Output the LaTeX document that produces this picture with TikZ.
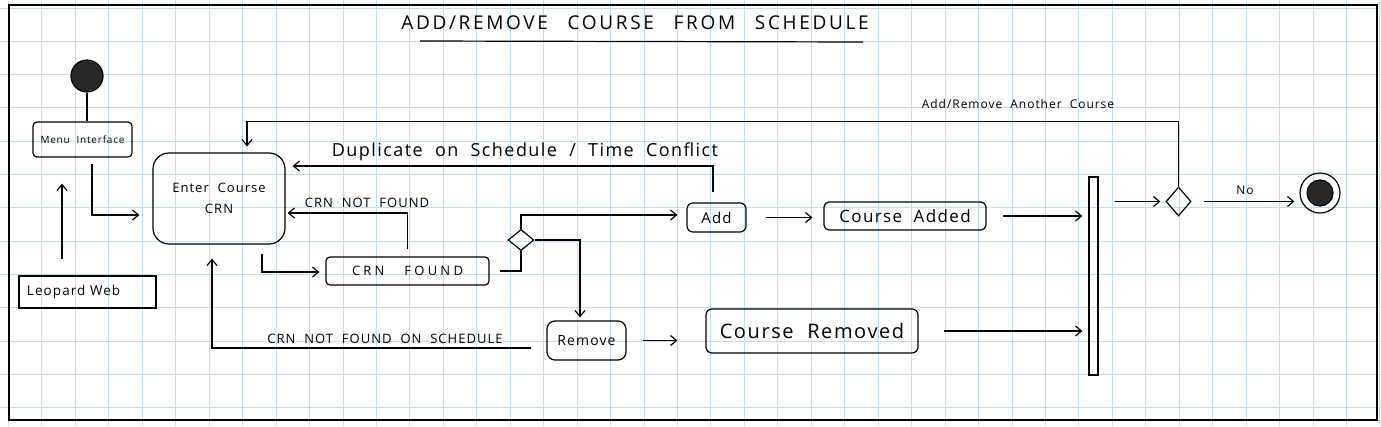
\documentclass[tikz,border=0pt]{standalone}
\usepackage{fontspec}
\setmainfont[LetterSpace=8,WordSpace=2]{Open Sans}
\newfontfamily\titlefont[LetterSpace=14,WordSpace=2.6]{Open Sans}
\newfontfamily\widefont[LetterSpace=25,WordSpace=3]{Open Sans}
\usetikzlibrary{arrows.meta,shapes.geometric}
\definecolor{gridblue}{RGB}{192,224,238}
\definecolor{hatch}{RGB}{40,40,40}
\begin{document}
\begin{tikzpicture}[x=1pt,y=-1pt,
  line width=1.2pt,
  arr/.style={-{Straight Barb[length=6pt,width=10pt,line width=1.2pt]}},
  box/.style={draw,line width=1.2pt,inner sep=0pt,align=center},
  lbl/.style={inner sep=0pt,font=\fontsize{14}{16}\selectfont},
  dec/.style={draw,diamond,inner sep=0pt,line width=1.2pt},
]
\useasboundingbox (0,0) rectangle (1381,426);
\fill[white] (0,0) rectangle (1381,426);
\foreach \i in {0,...,41} \draw[gridblue,line width=1pt] ({8.5+33.45*\i},0) -- ({8.5+33.45*\i},426);
\foreach \j in {0,...,12} \draw[gridblue,line width=1pt] (0,{8+33.3*\j}) -- (1381,{8+33.3*\j});
\draw[line width=2pt] (9,5) rectangle (1377,420);

% title
\node[inner sep=0pt,font={\titlefont\fontsize{19}{21}\selectfont}] (title) at (635,23) {ADD/REMOVE COURSE FROM SCHEDULE};
\draw (420,41) -- (863,42);

% nodes
\node[circle,draw,fill=hatch,minimum size=32pt,inner sep=0pt] (start) at (87,76) {};
\node[box,rounded corners=4pt,minimum width=99pt,minimum height=35pt,font=\fontsize{10}{12}\selectfont] (menu) at (82.5,139.5) {Menu Interface};
\node[box,minimum width=137pt,minimum height=32pt,text width=121pt,inner xsep=8pt,align=left,font=\fontsize{13.5}{16}\selectfont] (leopard) at (87.5,292) {Leopard Web};
\node[box,rounded corners=16pt,minimum width=132pt,minimum height=91pt,font=\fontsize{13}{21}\selectfont] (enter) at (219,198.5) {Enter Course\\CRN};
\node[box,rounded corners=4pt,minimum width=163pt,minimum height=28pt,font={\widefont\fontsize{13}{15}\selectfont}] (found) at (407.5,271) {CRN FOUND};
\node[dec,minimum width=26pt,minimum height=21pt] (dec1) at (521,240) {};
\node[box,rounded corners=6pt,minimum width=59pt,minimum height=29pt,font=\fontsize{15}{17}\selectfont] (add) at (716.5,217.5) {Add};
\node[box,rounded corners=5pt,minimum width=162pt,minimum height=28pt,font=\fontsize{17}{19}\selectfont] (added) at (905,216) {Course Added};
\node[box,rounded corners=8pt,minimum width=79pt,minimum height=39pt,font=\fontsize{14}{16}\selectfont] (remove) at (586.5,340.5) {Remove};
\node[box,rounded corners=6pt,minimum width=212pt,minimum height=44pt,font=\fontsize{20}{22}\selectfont] (removed) at (812,331) {Course Removed};
\node[draw,line width=1.2pt,minimum width=9pt,minimum height=198pt,inner sep=0pt] (bar) at (1093.5,276) {};
\node[dec,minimum width=25pt,minimum height=29pt] (dec2) at (1178.5,201.5) {};
\node[circle,draw,minimum size=40pt,inner sep=0pt] (endn) at (1320,193) {};
\node[circle,draw,fill=hatch,minimum size=26pt,inner sep=0pt] (endin) at (endn) {};

% labels
\node[lbl,font=\fontsize{18}{20}\selectfont] (lDup) at (525,152) {Duplicate on Schedule / Time Conflict};
\node[lbl,font=\fontsize{13}{15}\selectfont] (lNF) at (367,203) {CRN NOT FOUND};
\node[lbl,font=\fontsize{13}{15}\selectfont] (lNFS) at (385,339) {CRN NOT FOUND ON SCHEDULE};
\node[lbl,font=\fontsize{12}{14}\selectfont] (lAnother) at (1018,104) {Add/Remove Another Course};
\node[lbl,font=\fontsize{12}{14}\selectfont] (lNo) at (1245,190) {No};

% connectors
\draw (start.south) -- (start.south |- menu.north);
\draw[arr] ([xshift=-25.5pt,yshift=16pt]leopard.north) -- ([xshift=-20.5pt,yshift=-26pt]menu.south);
\draw[arr] ([xshift=9.5pt,yshift=-6pt]menu.south) |- ([xshift=-13pt,yshift=-16.5pt]enter.west);
\draw[arr] ([xshift=43pt,yshift=-9pt]enter.south) |- ([xshift=-6pt,yshift=-1pt]found.west);
\draw[arr] ([yshift=7pt]found.north) |- ([xshift=2pt,yshift=-14.5pt]enter.east);
\draw[arr] ([xshift=-3.5pt,yshift=10pt]add.north) |- ([xshift=7pt,yshift=32.5pt]enter.east);
\draw ([xshift=10pt]found.east) -| (dec1.south);
\draw[arr] (dec1.north) |- ([xshift=-9pt,yshift=2.5pt]add.west);
\draw[arr] (dec1.east) -| ([xshift=-6.5pt,yshift=3pt]remove.north);
\draw[arr] ([xshift=-15pt,yshift=-7.5pt]remove.west) -| ([xshift=-7pt,yshift=-14pt]enter.south);
\draw[arr,shorten <=19pt,shorten >=11pt] (add.east) -- (add.east -| added.west);
\draw[arr,shorten <=16pt,shorten >=28pt] (remove.east) -- (remove.east -| removed.west);
\draw[arr,shorten <=16pt,shorten >=6pt] (added.east) -- (added.east -| bar.west);
\draw[arr,shorten <=25pt,shorten >=6pt] (removed.east) -- (removed.east -| bar.west);
\draw[arr,shorten <=16pt,shorten >=5pt] (dec2.west -| bar.east) -- (dec2.west);
\draw[arr] (dec2.north) -- ++(0,-65) -| ([xshift=28pt,yshift=6pt]enter.north);
\draw[arr,shorten <=12pt,shorten >=5pt] (dec2.east) -- (dec2.east -| endn.west);
\end{tikzpicture}
\end{document}
